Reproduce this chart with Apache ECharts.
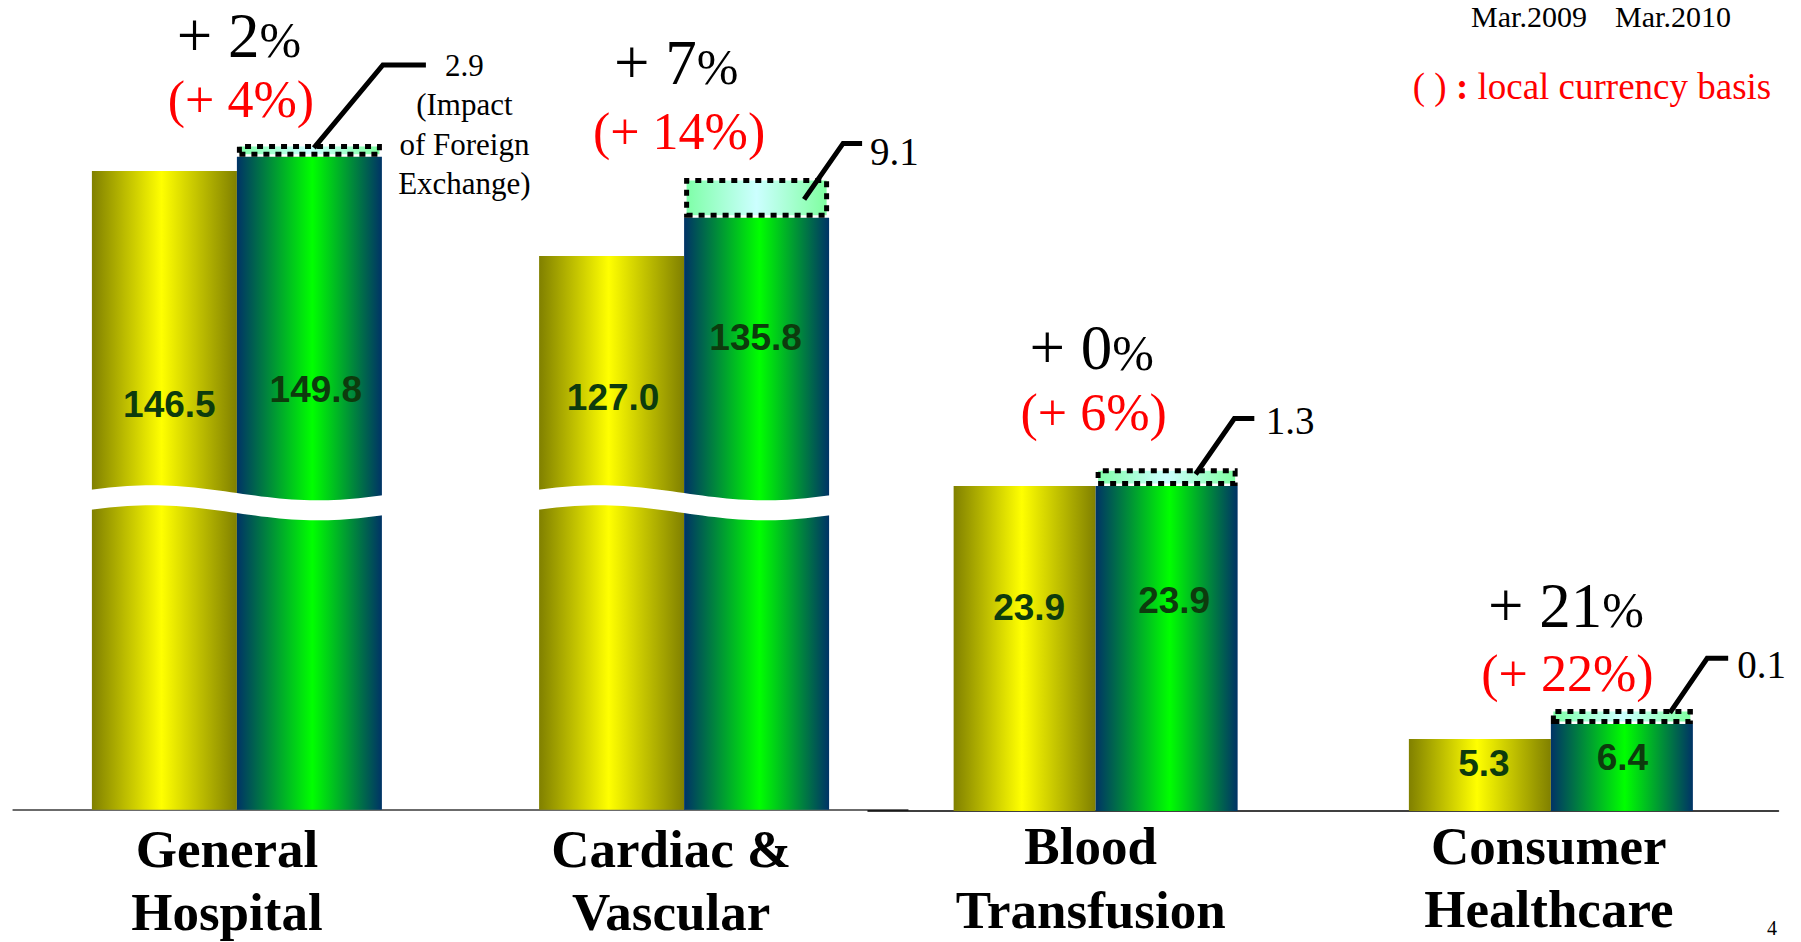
<!DOCTYPE html>
<html>
<head>
<meta charset="utf-8">
<script src="https://cdn.jsdelivr.net/npm/echarts@6/dist/echarts.min.js"></script>
<style>
html,body{margin:0;padding:0;background:#fff;}
#chart{width:1801px;height:942px;}
</style>
</head>
<body>
<div id="chart"></div>
<script>
// ---------------- data ----------------
const categories = ['General\nHospital', 'Cardiac &\nVascular', 'Blood\nTransfusion', 'Consumer\nHealthcare'];
const periods = ['Mar.2009', 'Mar.2010'];
const sales2009 = [146.5, 127.0, 23.9, 5.3];
const sales2010 = [149.8, 135.8, 23.9, 6.4];
const fxImpact = [2.9, 9.1, 1.3, 0.1];
const growthReported = [2, 7, 0, 21];
const growthLocal = [4, 14, 6, 22];
const fxNote = '(Impact\nof Foreign\nExchange)';
const noteText = '( ) : local currency basis';
const pageNumber = '4';
const scaleBreakAt = 70.4;   // value (left panel) where the scale-break wave is drawn

// ---------------- styling / layout ----------------
const SERIF = '"Liberation Serif", "Times New Roman", serif';
const SANS = '"Liberation Sans", Arial, sans-serif';

const panels = [
  { idx: [0, 1], grid: { left: 13.3, right: 893.3, top: 25, bottom: 132.3 }, yMax: 180, barW: 145,
    axisColor: '#6b6b6b', axisWidth: 2, labelMargin: 8, minH: 0, wave: true },
  { idx: [2, 3], grid: { left: 868, right: 22.5, top: 63, bottom: 131 }, yMax: 55, barW: 142,
    axisColor: '#000000', axisWidth: 1.5, labelMargin: 3.5, minH: 15, wave: false }
];

const barLabelDy = { a: [233, 141, 122, 25], b: [233, 120, 115, 33.5] };
const barLabelDx = { a: [5, 1.5, 4.5, 4], b: [6.5, -1, 7.5, 0.5] };
const catShift = [20, 26, 10, 4];
const catLineH = [[63, 63], [63, 63], [63, 64], [63, 63]];
const leader = [
  { s: [-68, -8.7], c: [1, -91.7], e: 44 },
  { s: [-25, -18.3], c: [14, -74.3], e: 33 },
  { s: [-42, -11.7], c: [-3.3, -67.4], e: 16.7 },
  { s: [-23, -11], c: [14.3, -65.7], e: 35.3 }
];
const fxPos = [
  { x: 82.5, y: -91.2, align: 'center', size: 31, lh: 39.5 },
  { x: 41, y: -66.6, align: 'left', size: 39, lh: 46 },
  { x: 28, y: -65, align: 'left', size: 39, lh: 46 },
  { x: 44.3, y: -59, align: 'left', size: 39, lh: 46 }
];
const pctPos = [
  { bx: 2, by: -121, rx: 4, ry: -57.5 },
  { bx: -8, by: -155, rx: -5, ry: -86.3 },
  { bx: -4, by: -137.5, rx: -2, ry: -73 },
  { bx: 15, by: -118.2, rx: 16.5, ry: -50.3 }
];

function hGrad(stops) {
  return { type: 'linear', x: 0, y: 0, x2: 1, y2: 0,
    colorStops: stops.map(s => ({ offset: s[0], color: s[1] })) };
}
const yellowGrad = hGrad([[0, '#808000'], [0.48, '#ffff00'], [1, '#808000']]);
const greenGrad = hGrad([[0, '#003366'], [0.52, '#00ff00'], [1, '#003366']]);
const fxGrad = hGrad([[0, '#7fffa8'], [0.5, '#ccffff'], [1, '#7fffa0']]);

const grids = [], xAxes = [], yAxes = [], series = [];

panels.forEach((pn, g) => {
  grids.push(Object.assign({ containLabel: false }, pn.grid));
  const rich = {};
  pn.idx.forEach((i, j) => {
    ['a', 'b'].forEach((ln, k) => {
      rich['c' + j + ln] = {
        fontFamily: SERIF, fontWeight: 'bold', fontSize: 53, color: '#000',
        lineHeight: catLineH[i][k], padding: [0, catShift[i], 0, 0]
      };
    });
  });
  xAxes.push({
    gridIndex: g, type: 'category', data: pn.idx.map(i => categories[i]),
    axisLine: { show: true, lineStyle: { color: pn.axisColor, width: pn.axisWidth } },
    axisTick: { show: false },
    splitLine: { show: false },
    axisLabel: {
      interval: 0, margin: pn.labelMargin, align: 'center',
      formatter: (v, j) => v.split('\n').map((s, k) => '{c' + j + (k ? 'b' : 'a') + '|' + s + '}').join('\n'),
      rich: rich
    }
  });
  yAxes.push({ gridIndex: g, type: 'value', min: 0, max: pn.yMax, show: false, splitLine: { show: false } });

  const mkLabel = (key, i) => ({
    show: true, position: ['50%', barLabelDy[key][i]], offset: [barLabelDx[key][i], 0],
    align: 'center', verticalAlign: 'middle',
    fontFamily: SANS, fontWeight: 'bold', fontSize: 37, color: '#0d3b0d',
    formatter: p => Number(p.value).toFixed(1)
  });

  series.push({
    name: periods[0], type: 'bar', xAxisIndex: g, yAxisIndex: g,
    barWidth: pn.barW, barGap: '0%', z: 2,
    itemStyle: { color: yellowGrad },
    data: pn.idx.map(i => ({ value: sales2009[i], label: mkLabel('a', i) }))
  });
  series.push({
    name: periods[1], type: 'bar', xAxisIndex: g, yAxisIndex: g, stack: 'st' + g,
    barWidth: pn.barW, barGap: '0%', z: 2,
    itemStyle: { color: greenGrad },
    data: pn.idx.map(i => ({ value: sales2010[i], label: mkLabel('b', i) }))
  });
  series.push({
    name: 'FX', type: 'bar', xAxisIndex: g, yAxisIndex: g, stack: 'st' + g,
    barWidth: pn.barW, barGap: '0%', z: 3, barMinHeight: pn.minH,
    itemStyle: { color: fxGrad, borderColor: '#000', borderWidth: 5, borderType: [6, 6] },
    data: pn.idx.map(i => fxImpact[i])
  });

  if (pn.wave) {
    series.push({
      type: 'custom', xAxisIndex: g, yAxisIndex: g, z: 4, silent: true,
      data: pn.idx.map((i, j) => [j, scaleBreakAt]),
      encode: { x: 0, y: 1 },
      renderItem: (params, api) => {
        const pt = api.coord([api.value(0), api.value(1)]);
        const L = pt[0] - pn.barW - 1, W = 2 * pn.barW + 2;
        const top = [], bot = [];
        for (let k = 0; k <= 48; k++) {
          const x = L + W * k / 48;
          const y = pt[1] - 10 - 7.5 * Math.cos(2 * Math.PI * (x - L - 61) / 332);
          top.push([x, y]); bot.push([x, y + 20]);
        }
        return { type: 'polygon', shape: { points: top.concat(bot.reverse()) }, style: { fill: '#ffffff' } };
      }
    });
  }

  series.push({
    type: 'custom', xAxisIndex: g, yAxisIndex: g, z: 6, silent: true,
    data: pn.idx.map((i, j) => [j, sales2010[i], i]),
    encode: { x: 0, y: 1 },
    renderItem: (params, api) => {
      const j = api.value(0), v = api.value(1), i = api.value(2);
      const pt = api.coord([j, v]);
      const cx = pt[0], G = pt[1], R = cx + pn.barW;
      const L = leader[i], T = fxPos[i], P = pctPos[i];
      const fxStr = fxImpact[i].toFixed(1) + (i === 0 ? '\n' + fxNote : '');
      return {
        type: 'group', children: [
          { type: 'polyline',
            shape: { points: [[R + L.s[0], G + L.s[1]], [R + L.c[0], G + L.c[1]], [R + L.e, G + L.c[1]]] },
            style: { stroke: '#000', lineWidth: 5, fill: null } },
          { type: 'text',
            style: { text: fxStr, x: R + T.x, y: G + T.y - T.lh / 2, align: T.align, verticalAlign: 'top',
              lineHeight: T.lh, fontFamily: SERIF, fontSize: T.size, fill: '#000' } },
          { type: 'text',
            style: { text: '{n|+ ' + growthReported[i] + '}{p|%}', x: cx + P.bx, y: G + P.by,
              align: 'center', verticalAlign: 'middle',
              rich: { n: { fontFamily: SERIF, fontSize: 63, lineHeight: 50, color: '#000' },
                      p: { fontFamily: SERIF, fontSize: 50, lineHeight: 50, color: '#000', padding: [9, 0, 0, 0] } } } },
          { type: 'text',
            style: { text: '(+ ' + growthLocal[i] + '%)', x: cx + P.rx, y: G + P.ry, lineHeight: 54,
              align: 'center', verticalAlign: 'middle', fontFamily: SERIF, fontSize: 52, fill: '#ff0000' } }
        ]
      };
    }
  });
});

const chart = echarts.init(document.getElementById('chart'), null, { renderer: 'svg', width: 1801, height: 942 });
chart.setOption({
  backgroundColor: '#ffffff',
  animation: false,
  grid: grids,
  xAxis: xAxes,
  yAxis: yAxes,
  series: series,
  graphic: [
    { type: 'text', x: 1529, y: 16, style: { text: periods[0], fontFamily: SERIF, fontSize: 30, fill: '#000', align: 'center', verticalAlign: 'middle' } },
    { type: 'text', x: 1673, y: 16, style: { text: periods[1], fontFamily: SERIF, fontSize: 30, fill: '#000', align: 'center', verticalAlign: 'middle' } },
    { type: 'text', x: 1592, y: 86, style: { text: noteText.replace(':', '{b|:}'), fontFamily: SERIF, fontSize: 37, fill: '#ff0000', align: 'center', verticalAlign: 'middle',
        rich: { b: { fontFamily: SERIF, fontSize: 37, fontWeight: 'bold', color: '#ff0000' } } } },
    { type: 'text', x: 1772, y: 928, style: { text: pageNumber, fontFamily: SERIF, fontSize: 20, fill: '#000', align: 'center', verticalAlign: 'middle' } }
  ]
});
</script>
</body>
</html>
